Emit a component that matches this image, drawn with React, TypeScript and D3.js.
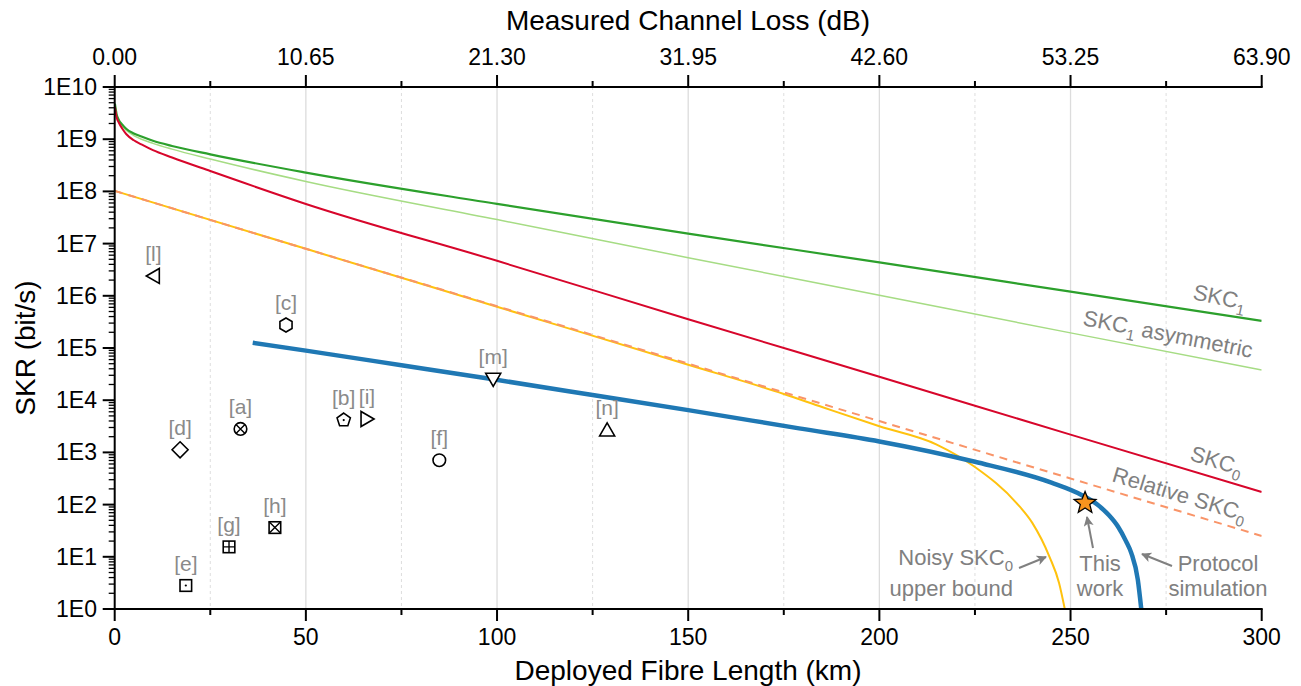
import React from "react";
import * as d3 from "d3";

// SKR values are stored as log10(bit/s)
const skc1Km = [0.05, 0.5, 1, 2, 3, 5, 7, 10, 15, 25, 50, 100, 150, 200, 250, 300];
const skc1Exp = [9.68, 9.48, 9.38, 9.28, 9.2, 9.11, 9.05, 8.97, 8.87, 8.71, 8.36, 7.76, 7.19, 6.64, 6.08, 5.52];

const skc1AsymKm = [0.05, 0.5, 1, 2, 3, 5, 7, 10, 15, 25, 50, 100, 150, 200, 250, 300];
const skc1AsymExp = [9.67, 9.46, 9.36, 9.25, 9.17, 9.07, 9.0, 8.92, 8.81, 8.62, 8.19, 7.46, 6.73, 6.01, 5.29, 4.58];

const skc0Km = [0.05, 0.5, 1, 2, 3, 5, 7, 10, 15, 25, 50, 100, 150, 200, 250, 300];
const skc0Exp = [9.62, 9.42, 9.33, 9.2, 9.1, 8.98, 8.9, 8.79, 8.65, 8.39, 7.76, 6.67, 5.55, 4.45, 3.34, 2.24];

const relSkc0Km = [0, 50, 100, 150, 200, 250, 300];
const relSkc0Exp = [8.01, 6.9, 5.8, 4.7, 3.6, 2.5, 1.4];

const noisyKm = [0, 50, 100, 150, 175, 185, 200, 215, 225, 236, 240, 244.5, 247, 248.5];
const noisyExp = [8.01, 6.9, 5.79, 4.68, 4.12, 3.87, 3.5, 3.15, 2.72, 2.02, 1.65, 1.0, 0.5, 0];

const protoKm = [36.1, 50, 75, 99, 125, 150, 179, 200, 225, 245, 253, 257, 260, 262.4, 264.5, 265.9, 267.6, 268.5];
const protoExp = [5.1, 4.95, 4.67, 4.4, 4.1, 3.81, 3.46, 3.21, 2.82, 2.42, 2.18, 2.0, 1.8, 1.58, 1.3, 1.07, 0.56, 0];

const thisWorkKm = 253.8;
const thisWorkExp = 2.03;

const refLabels = ["[a]", "[b]", "[c]", "[d]", "[e]", "[f]", "[g]", "[h]", "[i]", "[l]", "[m]", "[n]"];
const refKm = [32.9, 59.9, 44.8, 17.1, 18.6, 84.9, 29.9, 41.9, 66, 10.1, 99, 128.8];
const refExp = [3.45, 3.62, 5.44, 3.05, 0.45, 2.85, 1.19, 1.56, 3.64, 6.38, 4.4, 3.43];
const refShapes = ["circleX", "pentagonDot", "hexagon", "diamond", "squareDot", "circle", "squarePlus", "squareX", "triRight", "triLeft", "triDown", "triUp"];

const xTicks = [0, 50, 100, 150, 200, 250, 300];
const xMinor = [25, 75, 125, 175, 225, 275];
const lossTicks = [0, 10.65, 21.3, 31.95, 42.6, 53.25, 63.9];
const lossMinor = [5.325, 15.975, 26.625, 37.275, 47.925, 58.575];
const yTicks = [0, 1, 2, 3, 4, 5, 6, 7, 8, 9, 10];

const FONT = "'Liberation Sans', Arial, sans-serif";
const GRAY = "#808080";

const L = 114.7, R = 1261.7, T = 87, B = 609;

const x = d3.scaleLinear().domain([0, 300]).range([L, R]);
const xLoss = d3.scaleLinear().domain([0, 63.9]).range([L, R]);
const y = d3.scaleLog().domain([1, 1e10]).range([B, T]);

const line = (km: number[], ex: number[]) =>
  d3
    .line<number>()
    .x((_, i) => x(km[i]))
    .y((_, i) => y(Math.pow(10, ex[i])))
    .curve(d3.curveMonotoneX)(km.map((_, i) => i)) || "";

const Marker = ({ shape, cx, cy }: { shape: string; cx: number; cy: number }) => {
  const p = { fill: "white", stroke: "black", strokeWidth: 1.6 };
  const poly = (pts: number[][]) => pts.map((q) => `${cx + q[0]},${cy + q[1]}`).join(" ");
  const reg = (n: number, r: number, rot: number) =>
    d3.range(n).map((k) => {
      const a = rot + (k * 2 * Math.PI) / n;
      return [r * Math.cos(a), r * Math.sin(a)];
    });
  const dot = <circle cx={cx} cy={cy} r={1.1} fill="black" />;
  switch (shape) {
    case "circle":
      return <circle cx={cx} cy={cy} r={6.3} {...p} />;
    case "circleX":
      return (
        <g>
          <circle cx={cx} cy={cy} r={6.3} {...p} />
          <path d={`M${cx - 4.5},${cy - 4.5}L${cx + 4.5},${cy + 4.5}M${cx + 4.5},${cy - 4.5}L${cx - 4.5},${cy + 4.5}`} stroke="black" strokeWidth={1.4} />
        </g>
      );
    case "hexagon":
      return <polygon points={poly(reg(6, 7, -Math.PI / 2))} {...p} />;
    case "pentagonDot":
      return (
        <g>
          <polygon points={poly(reg(5, 7, -Math.PI / 2))} {...p} />
          {dot}
        </g>
      );
    case "diamond":
      return <polygon points={poly([[0, -8], [8, 0], [0, 8], [-8, 0]])} {...p} />;
    case "squareDot":
      return (
        <g>
          <rect x={cx - 5.8} y={cy - 5.8} width={11.6} height={11.6} {...p} />
          {dot}
        </g>
      );
    case "squarePlus":
      return (
        <g>
          <rect x={cx - 5.8} y={cy - 5.8} width={11.6} height={11.6} {...p} />
          <path d={`M${cx},${cy - 5.8}V${cy + 5.8}M${cx - 5.8},${cy}H${cx + 5.8}`} stroke="black" strokeWidth={1.4} />
        </g>
      );
    case "squareX":
      return (
        <g>
          <rect x={cx - 5.8} y={cy - 5.8} width={11.6} height={11.6} {...p} />
          <path d={`M${cx - 5.8},${cy - 5.8}L${cx + 5.8},${cy + 5.8}M${cx + 5.8},${cy - 5.8}L${cx - 5.8},${cy + 5.8}`} stroke="black" strokeWidth={1.4} />
        </g>
      );
    case "triUp":
      return <polygon points={poly([[0, -7], [7.5, 6], [-7.5, 6]])} {...p} />;
    case "triDown":
      return <polygon points={poly([[0, 7], [7.5, -6], [-7.5, -6]])} {...p} />;
    case "triLeft":
      return <polygon points={poly([[-7, 0], [6, -7.5], [6, 7.5]])} {...p} />;
    case "triRight":
      return <polygon points={poly([[7, 0], [-6, -7.5], [-6, 7.5]])} {...p} />;
    default:
      return null;
  }
};

const starPoints = (cx: number, cy: number, ro: number, ri: number) =>
  d3
    .range(10)
    .map((k) => {
      const a = -Math.PI / 2 + (k * Math.PI) / 5;
      const r = k % 2 === 0 ? ro : ri;
      return `${cx + r * Math.cos(a)},${cy + r * Math.sin(a)}`;
    })
    .join(" ");

const Sub = ({ t, back }: { t: string; back?: boolean }) => (
  <>
    <tspan dy={6} fontSize={15}>{t}</tspan>
    {back ? <tspan dy={-6}> </tspan> : null}
  </>
);

export default function App() {
  const minorY: number[] = [];
  for (let e = 0; e < 10; e++) for (let m = 2; m < 10; m++) minorY.push(m * Math.pow(10, e));

  const sx = x(thisWorkKm);
  const sy = y(Math.pow(10, thisWorkExp));

  return (
    <svg width={1301} height={686} style={{ position: "absolute", left: 0, top: 0 }} fontFamily={FONT}>
      <defs>
        <clipPath id="plot">
          <rect x={L} y={T} width={R - L} height={B - T} />
        </clipPath>
        <marker id="arr" viewBox="0 0 10 10" refX={9} refY={5} markerWidth={5} markerHeight={5} orient="auto" markerUnits="strokeWidth">
          <path d="M0,0L10,5L0,10L2.5,5Z" fill={GRAY} />
        </marker>
      </defs>
      <rect width={1301} height={686} fill="white" />

      {/* grid */}
      {xTicks.slice(1, -1).map((t) => (
        <line key={"g" + t} x1={x(t)} x2={x(t)} y1={T} y2={B} stroke="#dcdcdc" strokeWidth={1.3} />
      ))}
      {xMinor.map((t) => (
        <line key={"gm" + t} x1={x(t)} x2={x(t)} y1={T} y2={B} stroke="#dedede" strokeWidth={1} strokeDasharray="3,3" />
      ))}

      {/* curves */}
      <g clipPath="url(#plot)" fill="none">
        <path d={line(skc1AsymKm, skc1AsymExp)} stroke="#a6dc84" strokeWidth={1.5} />
        <path d={line(skc1Km, skc1Exp)} stroke="#2ca02c" strokeWidth={2.2} />
        <path d={line(skc0Km, skc0Exp)} stroke="#d7062b" strokeWidth={2} />
        <path d={line(noisyKm, noisyExp)} stroke="#ffc20e" strokeWidth={2} />
        <path d={line(relSkc0Km, relSkc0Exp)} stroke="#f99468" strokeWidth={2} strokeDasharray="8,6" />
        <path d={line(protoKm, protoExp)} stroke="#1f78b4" strokeWidth={4.5} />
      </g>

      {/* reference points */}
      {refLabels.map((lab, i) => {
        const cx = x(refKm[i]);
        const cy = y(Math.pow(10, refExp[i]));
        return (
          <g key={lab}>
            <text x={cx} y={cy - 15} textAnchor="middle" fontSize={21} fill="#8a8a8a">{lab}</text>
            <Marker shape={refShapes[i]} cx={cx} cy={cy} />
          </g>
        );
      })}

      {/* this work */}
      <polygon points={starPoints(sx, sy, 11.5, 5)} fill="#f7931e" stroke="black" strokeWidth={1.3} />

      {/* curve labels */}
      <g fontSize={22} fill={GRAY}>
        <text transform={`translate(1192,299) rotate(12)`}>SKC<Sub t="1" /></text>
        <text transform={`translate(1082,325) rotate(11)`}>SKC<Sub t="1" back /><tspan>asymmetric</tspan></text>
        <text transform={`translate(1189,460) rotate(17)`}>SKC<Sub t="0" /></text>
        <text transform={`translate(1111,481) rotate(17)`}>Relative SKC<Sub t="0" /></text>

        <text x={1013} y={565} textAnchor="end">Noisy SKC<Sub t="0" /></text>
        <text x={1013} y={596} textAnchor="end">upper bound</text>
        <text x={1100} y={571} textAnchor="middle">This</text>
        <text x={1100} y={596} textAnchor="middle">work</text>
        <text x={1218} y={571} textAnchor="middle">Protocol</text>
        <text x={1218} y={596} textAnchor="middle">simulation</text>
      </g>
      <g stroke={GRAY} strokeWidth={2} fill="none">
        <line x1={1019} y1={568} x2={1046} y2={557} markerEnd="url(#arr)" />
        <line x1={1093} y1={548} x2={1087} y2={517} markerEnd="url(#arr)" />
        <line x1={1172} y1={566} x2={1142} y2={554} markerEnd="url(#arr)" />
      </g>

      {/* axes */}
      <g stroke="black" strokeWidth={2}>
        <line x1={L} x2={R + 1} y1={B} y2={B} />
        <line x1={L} x2={R + 1} y1={T} y2={T} />
        <line x1={L} x2={L} y1={T} y2={B + 1} />
        {xTicks.map((t) => (
          <line key={"bt" + t} x1={x(t)} x2={x(t)} y1={B} y2={B + 12} />
        ))}
        {xMinor.map((t) => (
          <line key={"bm" + t} x1={x(t)} x2={x(t)} y1={B} y2={B + 6} />
        ))}
        {lossTicks.map((t) => (
          <line key={"tt" + t} x1={xLoss(t)} x2={xLoss(t)} y1={T} y2={T - 12} />
        ))}
        {lossMinor.map((t) => (
          <line key={"tm" + t} x1={xLoss(t)} x2={xLoss(t)} y1={T} y2={T - 6} />
        ))}
        {yTicks.map((e) => (
          <line key={"yt" + e} x1={L - 12} x2={L} y1={y(Math.pow(10, e))} y2={y(Math.pow(10, e))} />
        ))}
      </g>
      <g stroke="black" strokeWidth={1.3}>
        {minorY.map((v) => (
          <line key={"ym" + v} x1={L - 6} x2={L} y1={y(v)} y2={y(v)} />
        ))}
      </g>

      <g fontSize={23} fill="black">
        {xTicks.map((t) => (
          <text key={"bl" + t} x={x(t)} y={645} textAnchor="middle">{t}</text>
        ))}
        {lossTicks.map((t) => (
          <text key={"tl" + t} x={xLoss(t)} y={65} textAnchor="middle">{t.toFixed(2)}</text>
        ))}
        {yTicks.map((e) => (
          <text key={"yl" + e} x={97} y={y(Math.pow(10, e)) + 8} textAnchor="end">{`1E${e}`}</text>
        ))}
      </g>

      <g fontSize={28} fill="black" textAnchor="middle">
        <text x={688} y={680}>Deployed Fibre Length (km)</text>
        <text x={688} y={30}>Measured Channel Loss (dB)</text>
        <text transform={`translate(35,348) rotate(-90)`}>SKR (bit/s)</text>
      </g>
    </svg>
  );
}
